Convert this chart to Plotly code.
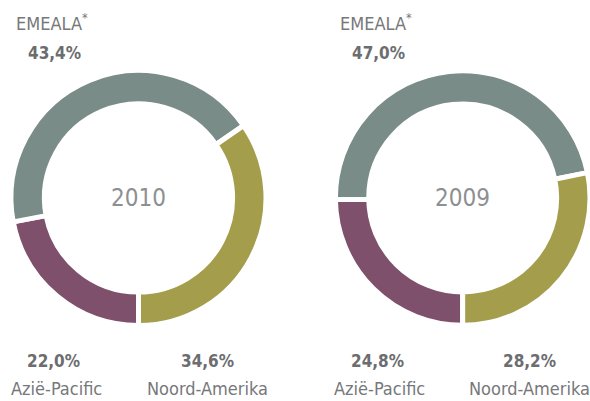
import plotly.graph_objects as go

W, H = 590, 401

# Data
labels = ["Azië-Pacific", "EMEALA", "Noord-Amerika"]
values_2010 = [22.0, 43.4, 34.6]
values_2009 = [24.8, 47.0, 28.2]
years = ["2010", "2009"]
pct_2010 = ["22,0%", "43,4%", "34,6%"]
pct_2009 = ["24,8%", "47,0%", "28,2%"]

colors = ["#7e506b", "#7a8c88", "#a39d4c"]

FONT = "DejaVu Sans Condensed, Liberation Sans Narrow, Noto Sans, sans-serif"
LABEL_COL = "#76787a"
PCT_COL = "#6b6d6f"
YEAR_COL = "#8d9092"


def px(x):
    return x / W


def py(y):
    return 1 - y / H


def domain(cx, cy, r):
    x0 = max(0, cx - r) / W
    x1 = min(W, cx + r) / W
    return dict(x=[x0, x1], y=[py(cy + r), py(cy - r)])


fig = go.Figure()
for vals, (cx, cy, r) in [(values_2010, (138.5, 198, 127.5)), (values_2009, (462.7, 198, 127.3))]:
    fig.add_trace(go.Pie(
        labels=labels, values=vals, sort=False, direction="clockwise",
        rotation=180, hole=0.738, textinfo="none",
        marker=dict(colors=colors, line=dict(color="white", width=5)),
        domain=domain(cx, cy, r), showlegend=False,
    ))

ann = []


def add(text, x, y, size, color, bold=False):
    ann.append(dict(text=("<b>%s</b>" % text) if bold else text,
                    x=px(x), y=py(y), xref="paper", yref="paper",
                    xanchor="center", yanchor="middle", showarrow=False,
                    font=dict(family=FONT, size=size, color=color)))


for off, pcts, yr in [(0, pct_2010, years[0]), (324, pct_2009, years[1])]:
    add(labels[1] + "<sup>*</sup>", 52 + off, 22, 18, LABEL_COL)
    add(pcts[1], 54.5 + off, 53, 17, PCT_COL, True)
    add(yr, 138.5 + off, 198, 24, YEAR_COL)
    add(pcts[0], 53 + off, 361, 17, PCT_COL, True)
    add(labels[0], 56 + off, 388, 18, LABEL_COL)
    na_x = 207 + off if off == 0 else 529
    add(pcts[2], na_x, 361, 17, PCT_COL, True)
    add(labels[2], na_x, 388, 18, LABEL_COL)

fig.update_layout(width=W, height=H, margin=dict(l=0, r=0, t=0, b=0),
                  paper_bgcolor="white", plot_bgcolor="white",
                  annotations=ann)

fig.write_html("out.html", config={"displayModeBar": False, "staticPlot": True})

# remove the default page margin so the figure sits at the top-left corner
with open("out.html", encoding="utf-8") as f:
    html = f.read()
html = html.replace("<head>", "<head><style>html,body{margin:0;padding:0;overflow:hidden;}</style>", 1)
with open("out.html", "w", encoding="utf-8") as f:
    f.write(html)
